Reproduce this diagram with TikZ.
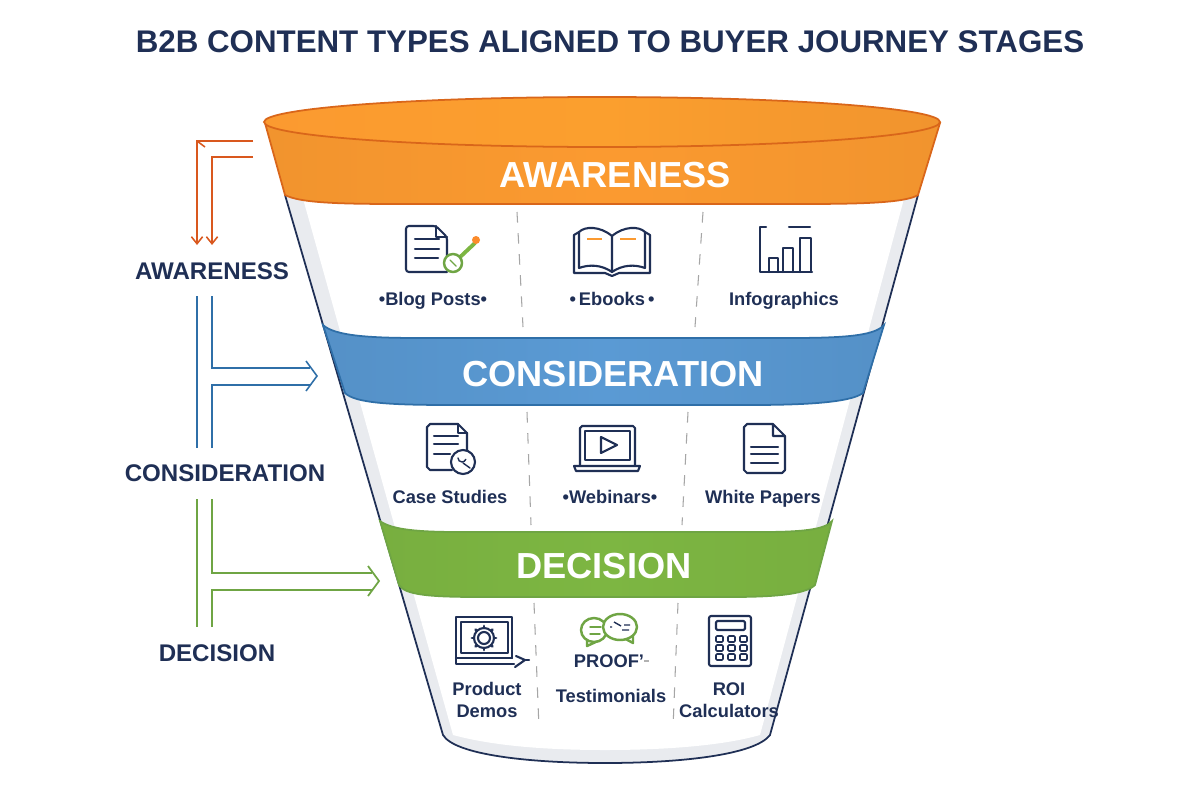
\documentclass[tikz,border=0pt]{standalone}
\usepackage{fontspec}
\setmainfont{Liberation Sans}
\usetikzlibrary{arrows.meta}
\definecolor{navy}{HTML}{1F2F55}
\definecolor{orangeMain}{HTML}{FB9A30}
\definecolor{orangeDark}{HTML}{D9661A}
\definecolor{orangeLine}{HTML}{D9581E}
\definecolor{blueMain}{HTML}{5A9AD4}
\definecolor{blueDark}{HTML}{2F6FA8}
\definecolor{greenMain}{HTML}{7DB642}
\definecolor{greenDark}{HTML}{6FA544}
\definecolor{shade}{HTML}{E9EBEF}
\tikzset{
	title/.style={font=\bfseries\fontsize{8.9}{11}\selectfont, text=navy},
	sidelabel/.style={font=\bfseries\fontsize{6.85}{8}\selectfont, text=navy},
	bandlabel/.style={font=\bfseries\fontsize{10.3}{12}\selectfont, text=white},
	item/.style={font=\bfseries\fontsize{5.2}{6.1}\selectfont, text=navy, align=center, anchor=base, inner sep=0pt},
	icon/.style={draw=navy, line width=0.6pt, line join=round, line cap=round},
	greenicon/.style={draw=greenDark, line width=0.7pt, line join=round, line cap=round},
	divider/.style={draw=gray!70, line width=0.3pt, dashed},
	barb/.style={-{Straight Barb[length=2pt,width=3.2pt]}},
}
\begin{document}
\begin{tikzpicture}[x=0.01cm, y=-0.01cm]
	\useasboundingbox (0,0) rectangle (1200,800);

	\node[title] (heading) at (610,42) {B2B CONTENT TYPES ALIGNED TO BUYER JOURNEY STAGES};

	% funnel body
	\path[fill=shade] (285,195) -- (443,735) .. controls (455,755) and (530,763) .. (605,763)
		.. controls (680,763) and (755,755) .. (770,735) -- (918,195) -- cycle;
	\path[fill=white] (302,195) -- (453,735) .. controls (490,745) and (540,750) .. (605,750)
		.. controls (670,750) and (725,745) .. (760,735) -- (905,195) -- cycle;
	\draw[navy, line width=0.5pt] (285,195) -- (443,735) .. controls (455,755) and (530,763) .. (605,763)
		.. controls (680,763) and (755,755) .. (770,735) -- (918,195);

	% bands
	\draw[draw=orangeDark, line width=0.5pt, left color=orangeMain!96!black, right color=orangeMain!96!black, middle color=orangeMain]
		(265,123) -- (285,195) .. controls (300,203) and (340,204) .. (400,204) -- (800,204)
		.. controls (860,204) and (905,203) .. (918,195) -- (940,123) -- cycle;
	\draw[draw=orangeDark, line width=0.5pt, left color=orangeMain, right color=orangeMain!96!black, middle color=orangeMain!95!yellow]
		(602,122) ellipse [x radius=338, y radius=25];
	\draw[draw=blueDark, line width=0.5pt, left color=blueMain!94!black, right color=blueMain!94!black, middle color=blueMain]
		(323,325) .. controls (335,336) and (370,338) .. (420,338) -- (790,338)
		.. controls (850,338) and (875,335) .. (884,325) -- (863,393)
		.. controls (850,403) and (800,405) .. (750,405) -- (450,405)
		.. controls (390,405) and (355,403) .. (345,393) -- cycle;
	\draw[draw=greenDark, line width=0.5pt, left color=greenMain!96!black, right color=greenMain!96!black, middle color=greenMain]
		(380,521) .. controls (392,530) and (420,532) .. (460,532) -- (760,532)
		.. controls (800,532) and (825,530) .. (832,521) -- (815,585)
		.. controls (805,595) and (770,597) .. (730,597) -- (480,597)
		.. controls (430,597) and (405,595) .. (399,585) -- cycle;

	\node[bandlabel] (awarenessBand) at (615,175) {AWARENESS};
	\node[bandlabel] (considerationBand) at (613,374) {CONSIDERATION};
	\node[bandlabel] (decisionBand) at (604,566) {DECISION};

	% dividers
	\draw[divider] (517,212) -- (523,327);
	\draw[divider] (703,212) -- (695,327);
	\draw[divider] (527,412) -- (531,525);
	\draw[divider] (688,412) -- (682,525);
	\draw[divider] (534,603) -- (539,728);
	\draw[divider] (678,603) -- (673,728);

	% side labels
	\node[sidelabel] (awarenessSide) at (212,271) {AWARENESS};
	\node[sidelabel] (considerationSide) at (225,473) {CONSIDERATION};
	\node[sidelabel] (decisionSide) at (217,653) {DECISION};

	% side connectors
	\coordinate (aOuterStart) at (253,141);
	\coordinate (aOuterEnd) at (197,245);
	\coordinate (aInnerStart) at (253,157);
	\coordinate (aInnerEnd) at (212,245);
	\draw[orangeLine, line width=0.45pt, barb] (aOuterStart) -| (aOuterEnd);
	\draw[orangeLine, line width=0.45pt, barb] (aInnerStart) -| (aInnerEnd);
	\coordinate (aCorner) at (197,141);
	\coordinate (aCornerBarb) at (205,147);
	\draw[orangeLine, line width=0.45pt] (aCorner) -- (aCornerBarb);

	\coordinate (bOuterStart) at (197,296);
	\coordinate (bOuterEnd) at (197,448);
	\coordinate (bInnerStart) at (212,296);
	\coordinate (bInnerEnd) at (212,448);
	\coordinate (bUpper) at (310,368);
	\coordinate (bLower) at (310,385);
	\coordinate (bHeadA) at (306,361);
	\coordinate (bTip) at (317,376);
	\coordinate (bHeadB) at (306,391);
	\draw[blueDark, line width=0.45pt] (bOuterStart) -- (bOuterEnd);
	\draw[blueDark, line width=0.45pt] (bInnerStart) |- (bUpper);
	\draw[blueDark, line width=0.45pt] (bInnerEnd) |- (bLower);
	\draw[blueDark, line width=0.45pt] (bHeadA) -- (bTip) -- (bHeadB);

	\coordinate (cOuterStart) at (197,499);
	\coordinate (cOuterEnd) at (197,627);
	\coordinate (cInnerStart) at (212,499);
	\coordinate (cInnerEnd) at (212,627);
	\coordinate (cUpper) at (372,573);
	\coordinate (cLower) at (372,590);
	\coordinate (cHeadA) at (368,566);
	\coordinate (cTip) at (379,581);
	\coordinate (cHeadB) at (368,596);
	\draw[greenDark, line width=0.5pt] (cOuterStart) -- (cOuterEnd);
	\draw[greenDark, line width=0.5pt] (cInnerStart) |- (cUpper);
	\draw[greenDark, line width=0.5pt] (cInnerEnd) |- (cLower);
	\draw[greenDark, line width=0.5pt] (cHeadA) -- (cTip) -- (cHeadB);

	% item labels
	\node[item] (blogLabel) at (433,305) {\textbullet Blog Posts\textbullet};
	\node[item] (ebookLabel) at (612,305) {\textbullet\,Ebooks\,\textbullet};
	\node[item] (infoLabel) at (784,305) {Infographics};
	\node[item] (caseLabel) at (450,503) {Case Studies};
	\node[item] (webinarLabel) at (610,503) {\textbullet Webinars\textbullet};
	\node[item] (paperLabel) at (763,503) {White Papers};
	\node[item, anchor=center] (demoLabel) at (487,700) {Product\\Demos};
	\node[item] (proofLabel) at (609,667) {PROOF'};
	\node[item] (testimonialLabel) at (611,702) {Testimonials};
	\node[item, anchor=center] (roiLabel) at (729,700) {ROI\\Calculators};
	\draw[gray!60, line width=0.3pt] (644,661) -- (649,661);

	% blog icon
	\draw[icon, rounded corners=0.8pt] (447,258) -- (447,237) -- (436,226) -- (406,226) -- (406,272) -- (447,272);
	\draw[icon] (436,226) -- (436,237) -- (447,237);
	\draw[icon] (415,239) -- (439,239) (415,249) -- (439,249) (415,258) -- (438,258);
	\draw[greenMain, line width=1.1pt, line cap=round] (458,259) -- (475,243);
	\draw[greenicon, fill=white] (453,263) circle [radius=9];
	\draw[greenicon, line width=0.4pt] (450,260) -- (456,266);
	\fill[orangeMain!90!red] (476,240) circle [radius=4];

	% book icon
	\draw[icon] (612,236) .. controls (600,226) and (585,226) .. (579,232) -- (579,268)
		.. controls (590,264) and (602,265) .. (612,272)
		.. controls (622,265) and (634,264) .. (645,268) -- (645,232)
		.. controls (639,226) and (624,226) .. (612,236) -- (612,272);
	\draw[icon] (579,232) -- (574,235) -- (574,273) -- (605,273) -- (612,276) -- (619,273) -- (650,273) -- (650,235) -- (645,232);
	\draw[orangeMain, line width=0.5pt] (587,239) -- (602,239) (620,239) -- (636,239);

	% chart icon
	\draw[icon] (766,227) -- (760,227) -- (760,272) -- (812,272);
	\draw[icon] (789,227) -- (810,227);
	\draw[icon] (769,272) -- (769,258) -- (778,258) -- (778,272);
	\draw[icon] (783,272) -- (783,248) -- (793,248) -- (793,272);
	\draw[icon] (800,272) -- (800,238) -- (811,238) -- (811,272);

	% case study icon
	\draw[icon] (452,470) -- (430,470) -- (427,467) -- (427,427) -- (430,424) -- (458,424) -- (467,433) -- (467,450);
	\draw[icon] (458,424) -- (458,433) -- (467,433);
	\draw[icon] (434,436) -- (458,436) (434,444) -- (458,444) (434,454) -- (450,454);
	\draw[icon, fill=white] (463,462) circle [radius=12];
	\draw[icon, line width=0.4pt] (458,458) arc [start angle=180, end angle=20, radius=4];
	\draw[icon, line width=0.4pt] (463,463) -- (470,468);

	% webinar icon
	\draw[icon] (580,465) -- (580,428) -- (582,426) -- (633,426) -- (635,428) -- (635,465);
	\draw[icon] (585,431) rectangle (630,460);
	\draw[icon] (574,466) -- (640,466) -- (638,471) -- (576,471) -- cycle;
	\draw[icon] (601,437) -- (617,445) -- (601,453) -- cycle;

	% paper icon
	\draw[icon] (773,424) -- (747,424) -- (744,427) -- (744,470) -- (747,473) -- (782,473) -- (785,470) -- (785,436) -- (773,424) -- (773,436) -- (785,436);
	\draw[icon] (751,447) -- (778,447) (751,454) -- (778,454) (751,463) -- (778,463);

	% demo icon
	\draw[icon] (456,658) -- (456,617) -- (512,617) -- (512,658);
	\draw[icon] (461,622) rectangle (508,653);
	\draw[icon] (456,658) -- (512,658) (456,658) -- (456,664) -- (514,664);
	\draw[icon] (516,656) -- (525,660) -- (515,667);
	\draw[icon] (526,660) -- (529,660);
	\draw[icon] (484,638) circle [radius=6];
	\draw[icon] (484,638) circle [radius=10];
	\foreach \ang in {0,45,...,315}
		\draw[icon, line width=0.8pt] (484,638) ++(\ang:10) -- ++(\ang:2);

	% testimonial icon
	\draw[greenicon, fill=white] (587,646) -- (587,638) -- (600,640) -- cycle;
	\draw[greenicon, fill=white] (594,630) ellipse [x radius=13, y radius=12];
	\draw[greenicon, fill=white] (633,643) -- (633,632) -- (622,637) -- cycle;
	\draw[greenicon, fill=white] (620,627) ellipse [x radius=17, y radius=13];
	\draw[greenicon, line width=0.4pt] (590,627) -- (601,627) (590,634) -- (600,634);
	\draw[navy, line width=0.4pt] (610,627) -- (612,627) (614,622) -- (621,626) (622,630) -- (629,630) (624,625) -- (630,625);

	% calculator icon
	\draw[icon, rounded corners=0.6pt] (709,616) rectangle (751,666);
	\draw[icon, rounded corners=0.4pt] (716,621) rectangle (745,630);
	\foreach \cx in {716,728,740}
		\foreach \cy in {636,645,654}
			\draw[icon, rounded corners=0.3pt, line width=0.45pt] (\cx,\cy) rectangle ++(7,6);
\end{tikzpicture}
\end{document}
